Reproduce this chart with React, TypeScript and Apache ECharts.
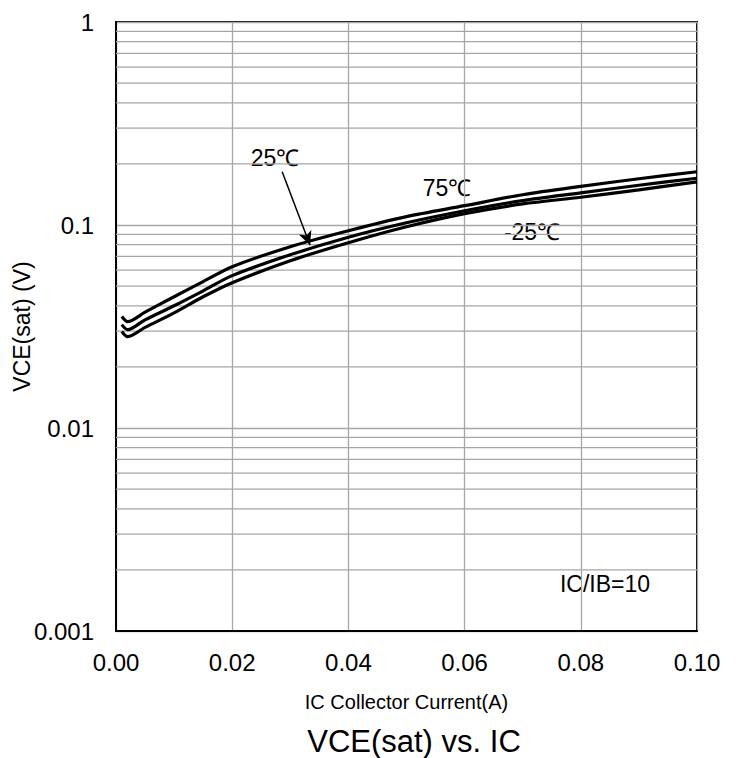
import React, { useEffect, useRef } from "react";
import * as echarts from "echarts";

const xValues = [0.001, 0.002, 0.005, 0.01, 0.015, 0.02, 0.03, 0.04, 0.05, 0.06, 0.07, 0.08, 0.09, 0.1];
const vce75 = [0.0354, 0.0334, 0.0372, 0.0443, 0.0526, 0.0623, 0.0782, 0.0937, 0.110, 0.1245, 0.141, 0.155, 0.169, 0.183];
const vce25 = [0.0323, 0.0305, 0.0341, 0.0400, 0.0474, 0.0563, 0.0714, 0.0871, 0.1026, 0.1176, 0.132, 0.144, 0.157, 0.170];
const vceM25 = [0.0299, 0.0282, 0.0313, 0.0369, 0.0443, 0.0520, 0.0667, 0.0818, 0.098, 0.1137, 0.127, 0.137, 0.149, 0.163];

const yTickLabels = ["0.001", "0.01", "0.1", "1"];
const minorGridValues = [
  0.002, 0.003, 0.004, 0.005, 0.006, 0.007, 0.008, 0.009,
  0.02, 0.03, 0.04, 0.05, 0.06, 0.07, 0.08, 0.09,
  0.2, 0.3, 0.4, 0.5, 0.6, 0.7, 0.8, 0.9,
];
const arrowFrom = [0.0286, 0.183];
const arrowTo = [0.0334, 0.0794];

const FONT = "'Liberation Sans', Arial, sans-serif";
const GRID_COLOR = "#a6a6a6";

export default function App() {
  const ref = useRef<HTMLDivElement>(null);
  useEffect(() => {
    if (!ref.current) return;
    const chart = echarts.init(ref.current, null, { renderer: "svg" });
    const mk = (name: string, ys: number[]) => ({
      name,
      type: "line",
      z: 5,
      data: xValues.map((x, i) => [x, ys[i]]),
      showSymbol: false,
      smooth: 0.3,
      lineStyle: { color: "#000", width: 3.2 },
      silent: true,
    });
    const annText = (text: string, x: number, y: number, size: number) => ({
      type: "text",
      x,
      y,
      style: { text, fontSize: size, fontFamily: FONT, fill: "#000", textAlign: "center", textVerticalAlign: "middle" },
    });
    chart.setOption({
      animation: false,
      backgroundColor: "#fff",
      textStyle: { fontFamily: FONT },
      title: {
        text: "VCE(sat) vs. IC",
        left: 409,
        textAlign: "center",
        top: 721,
        textStyle: { fontFamily: FONT, fontSize: 31, fontWeight: "normal", color: "#000" },
      },
      grid: {
        left: 116,
        right: 46,
        top: 22,
        bottom: 127,
        containLabel: false,
        outerBoundsMode: "none",
        show: true,
        borderColor: "#000",
        borderWidth: 2,
        backgroundColor: "transparent",
      },
      xAxis: {
        type: "value",
        min: 0,
        max: 0.1,
        interval: 0.02,
        name: "IC Collector Current(A)",
        nameLocation: "middle",
        nameGap: 61,
        nameMoveOverlap: false,
        nameTextStyle: { fontFamily: FONT, fontSize: 20, color: "#000" },
        axisLine: { lineStyle: { color: "#000", width: 2 } },
        axisTick: { show: false },
        axisLabel: {
          fontFamily: FONT,
          fontSize: 24,
          color: "#000",
          margin: 19,
          formatter: (v: number) => v.toFixed(2),
        },
        splitLine: { show: true, lineStyle: { color: GRID_COLOR, width: 1.3 } },
      },
      yAxis: {
        type: "log",
        logBase: 10,
        min: 0.001,
        max: 1,
        name: "VCE(sat) (V)",
        nameLocation: "middle",
        nameGap: 83,
        nameMoveOverlap: false,
        nameTextStyle: { fontFamily: FONT, fontSize: 23, color: "#000" },
        axisLine: { lineStyle: { color: "#000", width: 2 } },
        axisTick: { show: false },
        axisLabel: {
          fontFamily: FONT,
          fontSize: 24,
          color: "#000",
          margin: 22,
          formatter: (v: number) => yTickLabels[Math.round(Math.log10(v)) + 3] ?? "",
        },
        splitLine: { show: true, lineStyle: { color: GRID_COLOR, width: 1.3 } },
      },
      graphic: [
        annText("25℃", 275, 158, 23),
        annText("75℃", 447, 188, 23),
        annText("-25℃", 532, 232, 23),
        annText("IC/IB=10", 605, 584, 23),
      ],
      series: [
        {
          name: "grid-minor",
          type: "custom",
          z: 1,
          silent: true,
          clip: true,
          data: minorGridValues.map((v) => [v]),
          encode: { y: 0 },
          renderItem: (params: any, api: any) => {
            const v = api.value(0);
            const p1 = api.coord([0, v]);
            const p2 = api.coord([0.1, v]);
            return {
              type: "line",
              shape: { x1: p1[0], y1: p1[1], x2: p2[0], y2: p2[1] },
              style: { stroke: GRID_COLOR, lineWidth: 1.3 },
            };
          },
        },
        {
          ...mk("75℃", vce75),
          markLine: {
            silent: true,
            symbol: ["none", "arrow"],
            symbolSize: [10, 14],
            label: { show: false },
            lineStyle: { color: "#000", width: 1.5, type: "solid" },
            data: [[{ coord: arrowFrom }, { coord: arrowTo }]],
          },
        },
        mk("25℃", vce25),
        mk("-25℃", vceM25),
      ],
    });
    return () => chart.dispose();
  }, []);
  return <div ref={ref} style={{ position: "fixed", left: 0, top: 0, width: 743, height: 758 }} />;
}
